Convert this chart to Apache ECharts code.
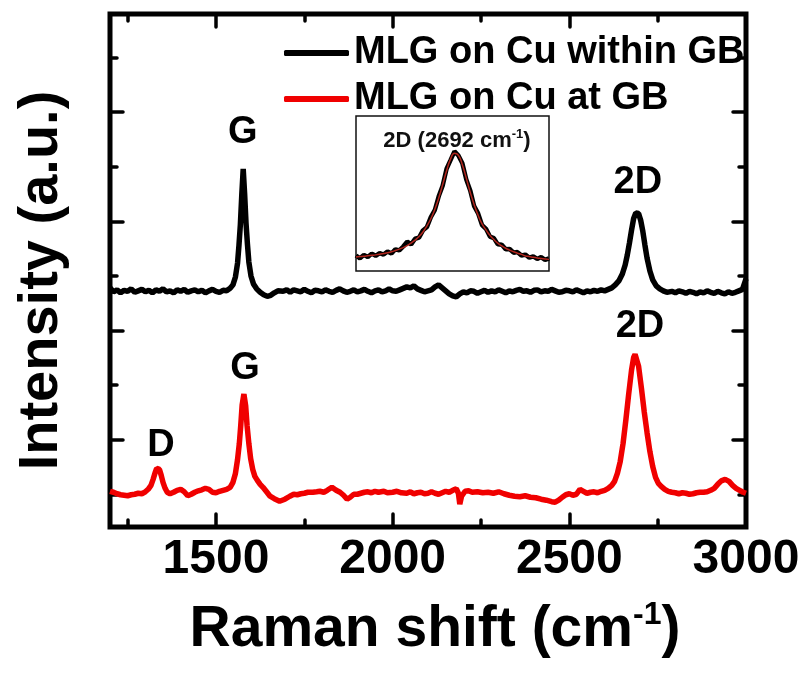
<!DOCTYPE html>
<html>
<head>
<meta charset="utf-8">
<script src="https://cdn.jsdelivr.net/npm/echarts@6/dist/echarts.min.js"></script>
<style>
  html, body { margin: 0; padding: 0; background: #fff; }
  #chart { width: 812px; height: 677px; }
</style>
</head>
<body>
<div id="chart"></div>
<script>
// Raman spectra of multilayer graphene on Cu: within a grain and at a grain boundary.
const FONT = '"Liberation Sans", Arial, Helvetica, sans-serif';

// MLG on Cu within GB (Raman shift in cm-1, intensity in a.u.)
const shiftWithin = [
  1200,1210,1220,1230,1240,1250,1260,1270,1280,1290,1300,1310,1320,1330,1340,1350,1360,1370,1380,1390,
  1400,1410,1420,1430,1440,1450,1460,1470,1480,1490,1500,1510,1520,1530,1540,1548,1555,1561,1565,1569,
  1573,1577,1581,1585,1589,1593,1599,1606,1615,1625,1635,1645,1655,1665,1675,1690,1700,1710,1720,1730,
  1740,1750,1760,1770,1780,1790,1800,1810,1820,1830,1840,1850,1860,1870,1880,1890,1900,1910,1920,1930,
  1940,1950,1960,1970,1980,1990,2000,2010,2020,2030,2040,2050,2060,2070,2080,2090,2100,2110,2120,2130,
  2140,2150,2160,2170,2180,2190,2200,2210,2220,2230,2240,2250,2260,2270,2280,2290,2300,2310,2320,2330,
  2340,2350,2360,2370,2380,2390,2400,2410,2420,2430,2440,2450,2460,2470,2480,2490,2500,2510,2520,2530,
  2540,2550,2560,2570,2580,2590,2600,2610,2620,2630,2640,2650,2658,2664,2670,2676,2682,2688,2692,2696,
  2702,2708,2714,2720,2728,2736,2746,2756,2766,2776,2790,2800,2810,2820,2830,2840,2850,2860,2870,2880,
  2890,2900,2910,2920,2930,2940,2950,2960,2970,2980,2990,3000
];
const intensityWithin = [
  2630,2590,2610,2580,2605,2595,2620,2585,2600,2615,2590,2605,2580,2610,2595,2620,2590,2600,2580,2610,
  2595,2615,2585,2600,2610,2590,2605,2580,2600,2615,2595,2585,2605,2600,2625,2660,2740,2880,3060,3270,
  3570,3830,3580,3280,3070,2890,2750,2670,2620,2585,2560,2545,2555,2580,2600,2595,2610,2585,2610,2600,
  2590,2615,2595,2580,2605,2600,2590,2610,2595,2585,2605,2620,2600,2585,2595,2610,2590,2600,2615,2595,
  2580,2600,2610,2590,2600,2620,2600,2595,2610,2625,2640,2630,2650,2620,2605,2590,2600,2610,2640,2660,
  2630,2600,2570,2550,2540,2570,2590,2580,2600,2595,2575,2590,2605,2585,2600,2590,2610,2595,2580,2600,
  2590,2605,2615,2595,2600,2585,2605,2610,2590,2600,2595,2615,2600,2585,2590,2605,2600,2590,2610,2595,
  2580,2600,2590,2605,2595,2610,2600,2615,2630,2660,2700,2770,2860,2960,3080,3210,3330,3385,3395,3380,
  3310,3200,3060,2930,2800,2710,2650,2620,2600,2585,2595,2580,2600,2590,2575,2595,2585,2570,2590,2580,
  2600,2585,2575,2595,2580,2570,2590,2575,2585,2600,2615,2720
];

// MLG on Cu at GB
const shiftAt = [
  1200,1210,1220,1230,1240,1250,1260,1270,1280,1290,1300,1308,1316,1322,1328,1332,1336,1340,1345,1350,
  1356,1362,1370,1380,1390,1400,1410,1420,1430,1440,1450,1460,1470,1480,1490,1500,1510,1520,1530,1540,
  1548,1555,1561,1566,1570,1574,1579,1584,1588,1593,1598,1604,1610,1617,1625,1633,1642,1653,1665,1680,
  1695,1709,1720,1730,1740,1750,1760,1774,1785,1794,1805,1815,1828,1840,1851,1861,1871,1880,1890,1900,
  1910,1920,1930,1940,1950,1960,1975,1985,2000,2012,2025,2040,2050,2060,2070,2080,2090,2100,2110,2120,
  2130,2140,2150,2160,2170,2180,2186,2190,2195,2205,2215,2225,2240,2255,2270,2285,2300,2315,2330,2345,
  2360,2375,2390,2405,2420,2435,2450,2460,2470,2480,2490,2500,2510,2520,2530,2540,2550,2560,2570,2580,
  2590,2600,2610,2620,2628,2636,2644,2652,2660,2668,2676,2682,2686,2690,2696,2704,2712,2720,2728,2736,
  2744,2752,2760,2770,2780,2790,2800,2810,2820,2830,2840,2850,2860,2870,2880,2890,2900,2910,2920,2930,
  2941,2952,2962,2972,2982,2992,3000
];
const intensityAt = [
  580,570,555,545,540,535,545,550,560,555,575,600,640,700,770,810,820,800,740,670,
  610,570,555,570,590,600,575,535,550,570,585,595,610,600,570,565,580,590,600,620,
  670,760,900,1060,1240,1450,1560,1440,1240,1060,910,800,730,690,650,620,580,530,505,480,
  500,530,550,545,555,560,570,570,575,580,570,590,620,590,570,540,500,520,550,550,
  560,570,575,565,580,570,580,565,570,580,565,560,575,555,565,570,555,560,575,560,
  550,565,580,570,590,605,560,450,530,580,585,570,575,565,570,560,575,555,540,530,
  525,535,520,515,500,490,475,470,490,520,545,555,540,550,600,580,560,570,575,565,
  580,590,610,640,680,760,880,1060,1300,1560,1800,1930,1960,1940,1840,1620,1380,1170,980,830,
  720,660,630,600,580,570,565,555,565,560,550,555,565,570,570,575,590,610,650,685,
  700,680,640,610,590,570,560
];

// Inset: 2D band of the within-GB spectrum with its Lorentzian fit (normalised)
const insetShift = [
  2590,2594,2598,2602,2606,2610,2614,2618,2622,2626,2630,2634,2638,2642,2646,2650,2654,2658,2662,2666,
  2670,2674,2678,2682,2686,2690,2694,2698,2702,2706,2710,2714,2718,2722,2726,2730,2734,2738,2742,2746,
  2750,2754,2758,2762,2766,2770,2774,2778,2782,2786
];
const insetMeasured = [
  0.100,0.082,0.104,0.090,0.112,0.098,0.115,0.106,0.126,0.113,0.140,0.133,0.158,0.190,0.172,0.208,0.215,0.262,0.283,0.348,
  0.392,0.482,0.550,0.660,0.715,0.772,0.745,0.695,0.590,0.520,0.418,0.372,0.296,0.272,0.222,0.212,0.172,0.170,0.140,0.142,
  0.118,0.122,0.100,0.106,0.086,0.094,0.078,0.090,0.072,0.082
];
const insetFit = [
  0.091,0.093,0.095,0.098,0.101,0.104,0.108,0.113,0.118,0.124,0.132,0.141,0.151,0.164,0.180,0.199,0.222,0.252,0.290,0.337,
  0.397,0.471,0.557,0.647,0.722,0.760,0.747,0.686,0.599,0.508,0.428,0.360,0.304,0.265,0.230,0.203,0.180,0.162,0.147,0.135,
  0.124,0.115,0.107,0.097,0.093,0.088,0.084,0.081,0.078,0.075
];

// Axis ticks
const xMajorTicks = [1500, 2000, 2500, 3000];
const xMinorTicks = [1250, 1750, 2250, 2750];
const yMajorTicks = [1100, 2200, 3300, 4400];
const yMinorTicks = [550, 1650, 2750, 3850, 4950];

const X_MIN = 1200, X_MAX = 3000, Y_MIN = 220, Y_MAX = 5390;

const pairs = (xs, ys) => xs.map((x, i) => [x, ys[i]]);

function tickAxis(kind, position, ticks, len, withLabels) {
  const ax = {
    type: 'value', gridIndex: 0, position,
    min: kind === 'x' ? X_MIN : Y_MIN,
    max: kind === 'x' ? X_MAX : Y_MAX,
    axisLine: { show: false },
    splitLine: { show: false },
    axisTick: {
      show: true, inside: true, length: len, customValues: ticks,
      lineStyle: { color: '#000', width: 3.5, cap: 'round' }
    },
    axisLabel: { show: false }
  };
  if (withLabels) {
    ax.axisLabel = {
      show: true, customValues: ticks, margin: 9,
      formatter: v => String(v),
      fontFamily: FONT, fontWeight: 'bold', fontSize: 48, color: '#000'
    };
  }
  return ax;
}

const xAxes = [
  tickAxis('x', 'bottom', xMajorTicks, 13, true),
  tickAxis('x', 'bottom', xMinorTicks, 7, false),
  tickAxis('x', 'top', xMajorTicks, 13, false),
  tickAxis('x', 'top', xMinorTicks, 7, false),
  { type: 'value', gridIndex: 1, min: 2590, max: 2786, show: false }
];
xAxes[0].name = '{a|Raman shift (cm}{s|-1}{a|)}';
xAxes[0].nameLocation = 'middle';
xAxes[0].nameGap = 72;
xAxes[0].nameTextStyle = {
  padding: [0, 0, 0, 14],
  rich: {
    a: { fontFamily: FONT, fontWeight: 'bold', fontSize: 57, color: '#000', verticalAlign: 'bottom', lineHeight: 60 },
    s: { fontFamily: FONT, fontWeight: 'bold', fontSize: 32, color: '#000', verticalAlign: 'top', lineHeight: 60 }
  }
};

const yAxes = [
  tickAxis('y', 'left', yMajorTicks, 13, false),
  tickAxis('y', 'left', yMinorTicks, 7, false),
  tickAxis('y', 'right', yMajorTicks, 13, false),
  tickAxis('y', 'right', yMinorTicks, 7, false),
  { type: 'value', gridIndex: 1, min: 0, max: 1, show: false }
];
yAxes[0].name = 'Intensity (a.u.)';
yAxes[0].nameLocation = 'middle';
yAxes[0].nameRotate = 90;
yAxes[0].nameGap = 40;
yAxes[0].nameTextStyle = {
  fontFamily: FONT, fontWeight: 'bold', fontSize: 56, color: '#000',
  padding: [0, 20, 0, 0]
};

const peakLabel = {
  show: true, position: 'inside', formatter: p => p.name,
  fontFamily: FONT, fontWeight: 'bold', fontSize: 38, color: '#000'
};

const chart = echarts.init(document.getElementById('chart'), null, { renderer: 'canvas' });
chart.setOption({
  animation: false,
  backgroundColor: '#fff',
  grid: [
    { left: 110, top: 14, right: 66, bottom: 150, show: true, borderColor: '#000', borderWidth: 5, backgroundColor: 'transparent' },
    { left: 356, top: 116, width: 193, height: 155, show: true, borderColor: '#111', borderWidth: 1.5, backgroundColor: '#fff' }
  ],
  xAxis: xAxes,
  yAxis: yAxes,
  legend: {
    data: ['MLG on Cu within GB', 'MLG on Cu at GB'],
    orient: 'vertical',
    left: 279, top: 29,
    itemWidth: 65, itemHeight: 6, itemGap: 8,
    icon: 'roundRect',
    textStyle: { fontFamily: FONT, fontWeight: 'bold', fontSize: 38, color: '#000' }
  },
  graphic: [{
    type: 'text', x: 457, y: 140, z: 100,
    style: {
      text: '{a|2D (2692 cm}{s|-1}{a|)}',
      align: 'center', verticalAlign: 'middle',
      rich: {
        a: { fontFamily: FONT, fontSize: 22, fontWeight: 'bold', fill: '#111', verticalAlign: 'bottom', lineHeight: 24 },
        s: { fontFamily: FONT, fontSize: 13, fontWeight: 'bold', fill: '#111', verticalAlign: 'top', lineHeight: 24 }
      }
    }
  }],
  series: [
    {
      name: 'MLG on Cu at GB', type: 'line', xAxisIndex: 0, yAxisIndex: 0,
      data: pairs(shiftAt, intensityAt), showSymbol: false, symbol: 'none',
      lineStyle: { color: '#f00000', width: 5.5 }, itemStyle: { color: '#f00000' },
      markPoint: {
        symbol: 'rect', symbolSize: 1, itemStyle: { color: 'rgba(0,0,0,0)' },
        label: peakLabel,
        data: [
          { name: 'D', coord: [1344, 1040] },
          { name: 'G', coord: [1582, 1820] },
          { name: '2D', coord: [2700, 2240] }
        ]
      }
    },
    {
      name: 'MLG on Cu within GB', type: 'line', xAxisIndex: 0, yAxisIndex: 0,
      data: pairs(shiftWithin, intensityWithin), showSymbol: false, symbol: 'none',
      lineStyle: { color: '#000', width: 5.5 }, itemStyle: { color: '#000' },
      markPoint: {
        symbol: 'rect', symbolSize: 1, itemStyle: { color: 'rgba(0,0,0,0)' },
        label: peakLabel,
        data: [
          { name: 'G', coord: [1576, 4200] },
          { name: '2D', coord: [2694, 3690] }
        ]
      }
    },
    {
      name: 'inset measured', type: 'line', xAxisIndex: 4, yAxisIndex: 4,
      data: pairs(insetShift, insetMeasured), showSymbol: false, symbol: 'none',
      lineStyle: { color: '#000', width: 4.5 }, z: 5
    },
    {
      name: 'inset fit', type: 'line', xAxisIndex: 4, yAxisIndex: 4, smooth: true,
      data: pairs(insetShift, insetFit), showSymbol: false, symbol: 'none',
      lineStyle: { color: '#b3261e', width: 1.5 }, z: 6
    }
  ]
});
</script>
</body>
</html>
